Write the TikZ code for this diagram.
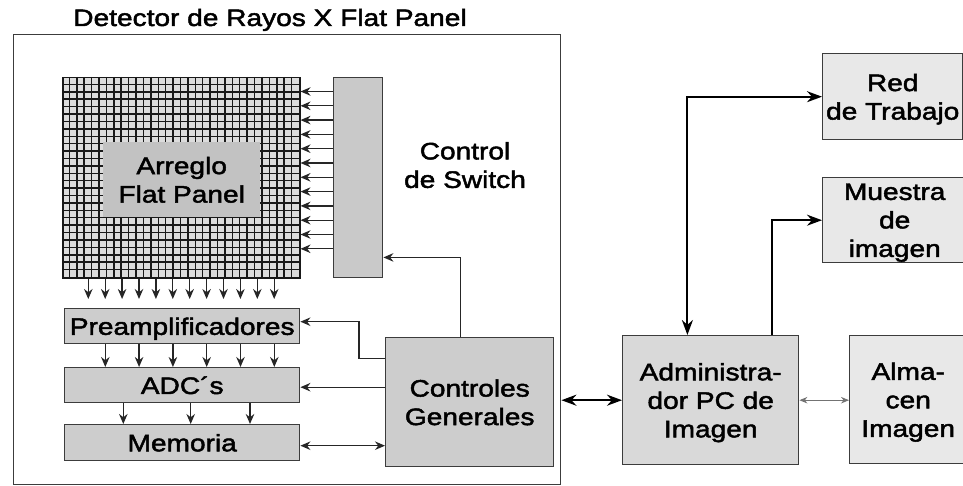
\documentclass[tikz,border=0pt]{standalone}
\usepackage{fontspec}
\newfontfamily\dfont[FakeStretch=1.18,FakeBold=2]{Liberation Sans}
\usetikzlibrary{arrows.meta,calc}
\definecolor{gridc}{HTML}{DCDCDC}
\definecolor{innerc}{HTML}{C2C2C2}
\definecolor{barc}{HTML}{C9C9C9}
\definecolor{midc}{HTML}{CDCDCD}
\definecolor{adminc}{HTML}{D9D9D9}
\definecolor{lightc}{HTML}{E8E8E8}
\definecolor{edgec}{HTML}{3C3C3C}
\begin{document}
\begin{tikzpicture}[x=1pt,y=-1pt,
  font=\dfont\fontsize{23.8}{28.5}\selectfont,
  boxst/.style={draw=edgec, line width=1.4pt, inner sep=0pt, anchor=north west,
                text depth=0pt, align=center},
  gline/.style={black!90, line width=1.5pt},
  sarr/.style={black!85, line width=1.3pt, -{Stealth[length=10pt,width=8.5pt]}},
  sdarr/.style={black!85, line width=1.3pt, {Stealth[length=10pt,width=8.5pt]}-{Stealth[length=10pt,width=8.5pt]}},
  barr/.style={black, line width=2pt, -{Stealth[length=15pt,width=11pt]}},
  bdarr/.style={black, line width=2pt, {Stealth[length=15pt,width=11pt]}-{Stealth[length=15pt,width=11pt]}},
  tarr/.style={black!55, line width=0.9pt, {Stealth[length=8pt,width=6.5pt]}-{Stealth[length=8pt,width=6.5pt]}}
]
\useasboundingbox (0,0) rectangle (963,486);
\clip (0,0) rectangle (963,486);

% title and outer frame
\node[anchor=base, inner sep=0pt] (title) at (270,26) {Detector de Rayos X Flat Panel};
\node[draw=edgec, line width=1.4pt, inner sep=0pt, anchor=north west,
      minimum width=547pt, minimum height=450pt] (outer) at (13,34) {};

% flat panel grid
\node[draw=black!90, line width=1.5pt, fill=gridc, inner sep=0pt, anchor=north west,
      minimum width=237pt, minimum height=200pt] (grid) at (62,77) {};
\foreach \i in {1,...,31}
  \draw[gline] ($(grid.north west)+(\i*7.406,0)$) -- ++(0,200);
\foreach \j in {1,...,26}
  \draw[gline] ($(grid.north west)+(0,\j*7.407)$) -- ++(237,0);
\node[fill=innerc, inner sep=0pt, anchor=north west, text depth=0pt, align=center,
      minimum width=157pt, minimum height=75pt] (inner) at (103,142) {Arreglo\\Flat Panel};

% switch control bar
\node[boxst, fill=barc, minimum width=49pt, minimum height=200pt] (bar) at (333,77) {};
\node[inner sep=0pt, align=center, text depth=0pt] (swlab) at (465,165) {Control\\de Switch};

% left column boxes
\node[boxst, fill=midc, minimum width=235pt, minimum height=35pt] (pre) at (64,308) {Preamplificadores};
\node[boxst, fill=midc, minimum width=235pt, minimum height=35pt] (adc) at (64,367) {ADC´s};
\node[boxst, fill=midc, minimum width=235pt, minimum height=36pt] (mem) at (64,424) {Memoria};
\node[boxst, fill=midc, minimum width=168pt, minimum height=129pt] (ctrl) at (385,337) {Controles\\Generales};

% right side boxes
\node[boxst, fill=adminc, minimum width=176pt, minimum height=129pt] (admin) at (622,335) {Administra-\\dor PC de\\Imagen};
\node[boxst, fill=lightc, minimum width=117pt, minimum height=128pt] (alm) at (849,335) {Alma-\\cen\\Imagen};
\node[boxst, fill=lightc, minimum width=140pt, minimum height=86pt] (red) at (822,53) {Red\\de Trabajo};
\node[boxst, fill=lightc, minimum width=144pt, minimum height=85pt] (mues) at (822,177) {Muestra\\de\\imagen};

% switch bar -> grid rows
\foreach \i in {0,...,11} {
  \coordinate (s\i) at ($(bar.north west)+(0,14.5+\i*14.3)$);
  \draw[sarr] (s\i) -- (s\i -| grid.east);
}
% grid columns -> preamplifiers
\foreach \j in {0,...,11} {
  \coordinate (g\j) at ($(grid.south west)+(26.3+\j*16.9,0)$);
  \draw[sarr, shorten >=9pt] (g\j) -- (g\j |- pre.north);
}
% preamplifiers -> ADC
\foreach \k in {0,...,5} {
  \coordinate (p\k) at ($(pre.south west)+(41.3+\k*33.8,0)$);
  \draw[sarr] (p\k) -- (p\k |- adc.north);
}
% ADC -> memory
\foreach \x [count=\n] in {59.3,126.7,186} {
  \coordinate (a\n) at ($(adc.south west)+(\x,0)$);
  \draw[sarr] (a\n) -- (a\n |- mem.north);
}

% general controls connectors
\draw[sarr] ([xshift=-9pt]ctrl.north) |- ([yshift=21pt]bar.south east);
\draw[sarr] ([yshift=-21.3pt]ctrl.north west) -- ++(-26,0) |- ([yshift=4.5pt]pre.east);
\coordinate (c5) at ([yshift=-2pt]adc.east);
\draw[sarr] (c5 -| ctrl.west) -- (c5);
\coordinate (c6) at ([yshift=-3pt]mem.east);
\draw[sdarr] (c6) -- (c6 -| ctrl.west);

% right side connectors
\draw[bdarr] (admin.west -| outer.east) -- (admin.west);
\draw[tarr] (admin.east) -- (admin.east -| alm.west);
\draw[bdarr] ([xshift=-23.3pt]admin.north) |- (red.west);
\draw[barr] ([xshift=61.7pt]admin.north) |- (mues.west);
\end{tikzpicture}
\end{document}
